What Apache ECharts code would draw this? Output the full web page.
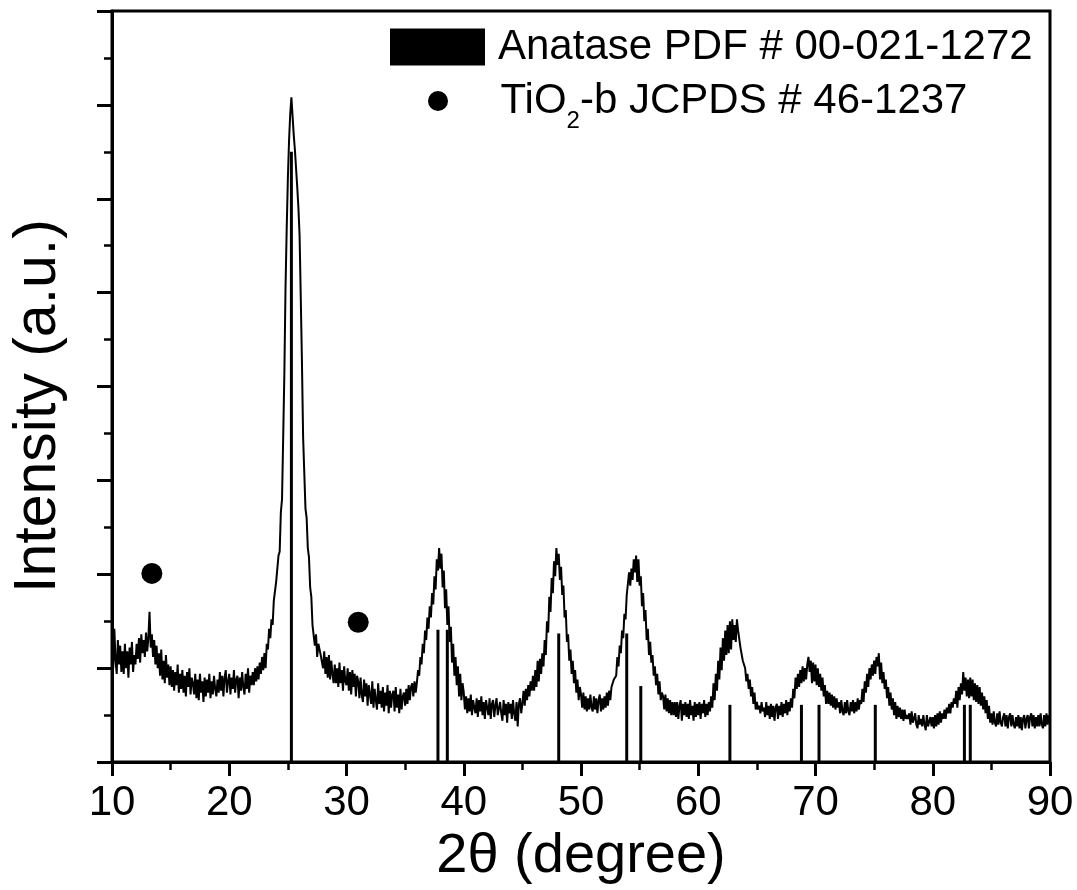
<!DOCTYPE html>
<html>
<head>
<meta charset="utf-8">
<script src="https://cdn.jsdelivr.net/npm/echarts@6/dist/echarts.min.js"></script>
<style>
html,body{margin:0;padding:0;background:#fff;}
#chart{width:1077px;height:890px;}
</style>
</head>
<body>
<div id="chart"></div>
<script>
// ---- Data ----
const seriesNames = ['XRD', 'Anatase PDF # 00-021-1272', 'TiO2-b JCPDS # 46-1237'];
const xTicks = [10, 20, 30, 40, 50, 60, 70, 80, 90];
// diffractometer scan: start angle and step (degrees 2θ)
const scanStart = 10;
const scanStep = 0.1;
// measured intensity (a.u.), one value per 0.1° from 10.0° to 90.0°
const scanIntensity = [
136,100,142,108,94,130,104,124,96,118,
94,126,100,118,90,122,104,128,96,114,
104,126,110,132,106,136,116,130,112,138,
118,132,160,122,136,112,130,104,124,100,
116,92,120,88,108,84,114,90,104,82,
102,80,98,76,96,82,104,74,94,78,
98,74,92,70,96,80,100,72,90,84,
72,94,68,88,66,94,74,86,64,90,
70,88,74,94,68,86,72,92,78,70,
88,74,96,76,92,70,90,98,74,86,
94,72,90,78,98,74,88,92,68,90,
76,96,80,72,94,78,100,74,92,82,
96,82,100,86,102,88,106,94,112,98,
116,100,126,120,142,132,152,146,172,170,
192,190,220,224,266,280,346,414,506,568,
622,662,690,708,688,668,652,632,612,590,
560,494,426,346,308,270,260,228,218,186,
176,146,148,124,136,112,126,120,114,116,
100,118,94,112,90,114,88,108,94,84,
104,84,100,80,106,84,98,76,102,86,
82,100,76,96,72,98,80,94,70,92,
86,68,90,72,64,88,70,84,60,82,
80,62,86,58,78,66,56,84,62,76,
58,80,54,74,60,82,52,76,58,72,
76,54,80,58,72,52,78,56,70,74,
60,78,62,82,66,80,84,70,86,74,
84,98,92,112,104,126,116,140,130,154,
142,166,154,180,168,198,184,216,204,228,
206,222,186,204,164,184,146,166,128,144,
106,126,92,112,82,102,70,94,66,84,
74,56,70,52,68,54,72,50,66,58,
52,68,48,66,54,70,50,64,46,66,
64,50,68,46,62,66,48,60,68,50,
48,64,52,44,66,50,62,42,64,52,
62,46,66,52,44,64,38,62,68,52,
62,76,60,78,66,82,70,86,76,92,
76,98,80,108,86,110,94,116,102,130,
114,150,138,176,160,196,180,214,198,228,
210,222,194,208,178,188,154,162,128,136,
108,120,94,108,84,98,74,88,66,80,
72,58,74,56,70,54,68,56,72,58,
54,70,56,68,52,66,72,54,68,56,
70,58,74,60,76,66,80,80,88,90,
92,112,102,124,116,140,132,158,152,178,
178,202,188,206,194,216,202,220,192,216,
188,198,166,180,150,162,130,142,114,128,
106,114,92,102,82,94,72,86,66,74,
70,56,72,54,68,52,66,50,64,50,
64,48,64,46,60,66,44,62,50,64,
48,62,46,66,50,60,44,64,48,62,
50,64,46,62,52,66,48,62,50,64,
54,70,58,84,66,94,76,108,88,122,
98,132,108,140,114,146,116,150,120,152,
130,146,128,152,140,138,122,120,108,106,
100,86,94,78,88,70,80,62,74,56,
64,56,60,52,64,54,58,48,64,50,
60,46,62,48,60,44,58,62,46,60,
50,64,48,62,52,66,50,64,54,68,
58,78,68,90,78,94,80,98,84,102,
86,100,88,104,112,96,108,84,106,86,
104,82,100,80,94,76,90,70,82,62,
76,62,74,60,72,58,70,56,68,58,
64,52,66,54,50,64,52,66,54,50,
64,54,66,52,64,54,68,56,66,62,
78,64,86,74,94,80,100,88,104,92,
108,94,112,102,116,88,106,84,96,78,
88,68,80,60,74,56,68,50,64,46,
60,48,58,46,56,44,56,46,50,46,
52,40,54,42,46,52,40,36,50,40,
46,38,50,40,34,50,38,36,48,38,
48,36,50,38,52,40,54,42,52,46,
56,46,58,52,62,52,64,58,68,62,
76,58,80,66,84,72,96,76,90,70,
88,68,90,70,88,66,84,64,82,62,
80,60,74,56,70,52,66,46,60,42,
52,40,54,42,38,52,40,54,42,38,
48,52,38,50,36,48,52,38,50,40,
36,48,38,50,36,48,34,46,50,36,
46,50,36,48,52,38,50,36,48,38,
50,38,52,40,36,50,38,52,40,50,
44
];
// Anatase reference lines (2θ, relative height in plot units)
const anatasePos = [25.3, 37.8, 38.6, 48.1, 53.9, 55.1, 62.7, 68.8, 70.3, 75.1, 82.7, 83.2];
const anataseHeight = [650, 141, 141, 137, 137, 81, 61, 61, 61, 61, 61, 61];
// TiO2-b markers
const tio2bPos = [13.4, 31.0];
const tio2bY = [201, 149];

// ---- Build ----
const FONT = 'Liberation Sans, Arial, sans-serif';
const xrdPoints = scanIntensity.map((v, i) => [+(scanStart + i * scanStep).toFixed(2), v]);
const stickPoints = anatasePos.map((p, i) => [p, anataseHeight[i]]);
const dotPoints = tio2bPos.map((p, i) => [p, tio2bY[i]]);

const chart = echarts.init(document.getElementById('chart'), null, {renderer: 'canvas'});
chart.setOption({
  animation: false,
  backgroundColor: '#fff',
  grid: {left: 112, top: 11, right: 27, bottom: 123, show: true, borderColor: '#000', borderWidth: 3, backgroundColor: 'transparent'},
  xAxis: {
    type: 'value', min: xTicks[0], max: xTicks[xTicks.length - 1], interval: 10,
    name: '2θ (degree)', nameLocation: 'middle', nameGap: 63,
    nameTextStyle: {fontFamily: FONT, fontSize: 56, color: '#000'},
    axisLine: {show: true, onZero: false, lineStyle: {color: '#000', width: 3}},
    axisTick: {show: true, inside: false, length: 14, lineStyle: {color: '#000', width: 3}},
    minorTick: {show: true, splitNumber: 2, length: 8, lineStyle: {color: '#000', width: 2.5}},
    axisLabel: {fontFamily: FONT, fontSize: 42, color: '#000', margin: 20, showMinLabel: true, showMaxLabel: true},
    splitLine: {show: false}
  },
  yAxis: {
    type: 'value', min: 0, max: 800, interval: 100,
    axisLine: {show: true, onZero: false, lineStyle: {color: '#000', width: 3}},
    axisTick: {show: true, inside: false, length: 15, lineStyle: {color: '#000', width: 3}},
    minorTick: {show: true, splitNumber: 2, length: 8, lineStyle: {color: '#000', width: 2.5}},
    axisLabel: {show: false},
    splitLine: {show: false}
  },
  legend: [
    {
      data: [{name: seriesNames[1], icon: 'rect'}],
      left: 390, top: 26, padding: 0, itemWidth: 95, itemHeight: 37, selectedMode: false,
      textStyle: {fontFamily: FONT, fontSize: 42, color: '#000', padding: [0, 0, 0, 8]}
    },
    {
      data: [{name: seriesNames[2], icon: 'circle'}],
      left: 428, top: 80, padding: 0, itemWidth: 95, itemHeight: 20, selectedMode: false,
      formatter: () => 'TiO{sub|2}-b JCPDS # 46-1237',
      textStyle: {fontFamily: FONT, fontSize: 42, color: '#000', padding: [0, 0, 0, 10],
        rich: {sub: {fontFamily: FONT, fontSize: 24, color: '#000', padding: [40, 0, 0, 0]}}}
    }
  ],
  graphic: [{
    type: 'text', x: 39, y: 406, rotation: Math.PI / 2,
    style: {text: 'Intensity (a.u.)', font: '59px ' + FONT, fill: '#000', textAlign: 'center', textVerticalAlign: 'middle'}
  }],
  series: [
    {
      name: seriesNames[1], type: 'bar', data: stickPoints, barWidth: 3,
      itemStyle: {color: '#000'}, z: 2
    },
    {
      name: seriesNames[0], type: 'line', data: xrdPoints, showSymbol: false, symbol: 'none',
      lineStyle: {color: '#000', width: 2}, itemStyle: {color: '#000'}, z: 3
    },
    {
      name: seriesNames[2], type: 'scatter', data: dotPoints, symbol: 'circle', symbolSize: 21,
      itemStyle: {color: '#000', opacity: 1}, z: 4
    }
  ]
});
</script>
</body>
</html>
